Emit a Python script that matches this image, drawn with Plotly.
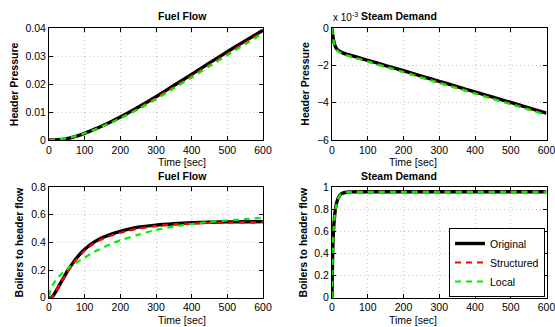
import plotly.graph_objects as go

# ---------------- data ----------------
# Top-left: Fuel Flow -> Header Pressure
t_a = [0, 25, 50, 75, 100, 125, 150, 175, 200, 225, 250, 300, 350, 400, 450, 500, 550, 600]
hp_ff_orig = [0, 0.0001, 0.0005, 0.0013, 0.0024, 0.0037, 0.0051, 0.0066, 0.0082, 0.0099, 0.0117, 0.0155, 0.0195, 0.0235, 0.0276, 0.0316, 0.0355, 0.0393]
hp_ff_struct = [0, 0.0001, 0.0005, 0.0012, 0.0023, 0.0035, 0.0049, 0.0063, 0.0079, 0.0095, 0.0113, 0.0150, 0.0189, 0.0229, 0.0269, 0.0309, 0.0348, 0.0387]
hp_ff_local = [0, 0.0002, 0.0007, 0.0014, 0.0024, 0.0036, 0.0049, 0.0062, 0.0077, 0.0093, 0.0110, 0.0146, 0.0185, 0.0224, 0.0264, 0.0304, 0.0343, 0.0382]

# Top-right: Steam Demand -> Header Pressure (x 10^-3)
t_b = [0, 2, 5, 10, 15, 20, 30, 40, 50, 75, 100, 150, 200, 250, 300, 350, 400, 450, 500, 550, 600]
hp_sd_orig = [0, -0.35, -0.7, -1.0, -1.15, -1.22, -1.32, -1.39, -1.44, -1.58, -1.72, -2.0, -2.28, -2.57, -2.85, -3.13, -3.42, -3.70, -3.98, -4.27, -4.56]
hp_sd_struct = [0, -0.36, -0.72, -1.03, -1.18, -1.26, -1.36, -1.43, -1.49, -1.63, -1.77, -2.06, -2.34, -2.63, -2.92, -3.20, -3.49, -3.77, -4.06, -4.34, -4.63]
hp_sd_local = [0, -0.37, -0.74, -1.05, -1.20, -1.28, -1.38, -1.45, -1.51, -1.65, -1.79, -2.08, -2.36, -2.65, -2.94, -3.22, -3.51, -3.80, -4.08, -4.37, -4.66]

# Bottom-left: Fuel Flow -> Boilers to header flow
t_c = [0, 5, 10, 20, 30, 40, 50, 60, 75, 100, 125, 150, 175, 200, 250, 300, 350, 400, 450, 500, 550, 600]
bf_ff_orig = [0, 0, 0.01, 0.05, 0.095, 0.14, 0.185, 0.225, 0.28, 0.35, 0.40, 0.435, 0.46, 0.48, 0.51, 0.525, 0.535, 0.542, 0.546, 0.548, 0.549, 0.55]
bf_ff_struct = [0, 0, 0.01, 0.05, 0.095, 0.14, 0.18, 0.22, 0.27, 0.34, 0.39, 0.425, 0.45, 0.47, 0.50, 0.518, 0.53, 0.537, 0.541, 0.543, 0.545, 0.546]
bf_ff_local = [0.01, 0.06, 0.09, 0.13, 0.16, 0.185, 0.205, 0.225, 0.25, 0.29, 0.33, 0.36, 0.39, 0.415, 0.455, 0.49, 0.515, 0.533, 0.548, 0.558, 0.568, 0.577]

# Bottom-right: Steam Demand -> Boilers to header flow
t_d = [0, 1, 2, 3, 5, 8, 10, 15, 20, 25, 30, 40, 50, 75, 100, 200, 300, 400, 500, 600]
bf_sd_orig = [0, 0.25, 0.42, 0.53, 0.65, 0.76, 0.81, 0.88, 0.915, 0.935, 0.945, 0.953, 0.956, 0.957, 0.957, 0.957, 0.957, 0.957, 0.957, 0.957]
bf_sd_struct = [0, 0.25, 0.42, 0.53, 0.65, 0.76, 0.81, 0.88, 0.915, 0.935, 0.945, 0.953, 0.956, 0.957, 0.957, 0.957, 0.957, 0.957, 0.957, 0.957]
bf_sd_local = [0, 0.24, 0.41, 0.52, 0.64, 0.75, 0.80, 0.875, 0.91, 0.932, 0.943, 0.952, 0.955, 0.956, 0.956, 0.956, 0.956, 0.956, 0.956, 0.956]

series_names = ["Original", "Structured", "Local"]
panel_titles = ["Fuel Flow", "Steam Demand", "Fuel Flow", "Steam Demand"]
ylabels = ["Header Pressure", "Header Pressure", "Boilers to header flow", "Boilers to header flow"]
xlabel = "Time [sec]"

# ---------------- figure ----------------
W, H = 555, 327
fig = go.Figure()

colors = ["#000000", "#ff0000", "#00ee00"]
widths = [3.4, 2.2, 2.2]
dashes = ["solid", "6px,5px", "6px,5px"]

panels = [
    (t_a, [hp_ff_orig, hp_ff_struct, hp_ff_local]),
    (t_b, [hp_sd_orig, hp_sd_struct, hp_sd_local]),
    (t_c, [bf_ff_orig, bf_ff_struct, bf_ff_local]),
    (t_d, [bf_sd_orig, bf_sd_struct, bf_sd_local]),
]

# pixel boxes (left, top, right, bottom)
boxes = [
    (49, 28.3, 263, 140),
    (332, 28.3, 546.5, 140),
    (49, 187, 263, 297.8),
    (332, 187, 546.5, 297.8),
]
# x-center of y-axis titles (px)
ytitle_x = [14, 305.5, 19, 303]
# y-center of panel titles (px)
title_y = [16, 16, 175.5, 175.5]

yranges = [[0, 0.04], [-6, 0], [0, 0.8], [0, 1]]
ydticks = [0.01, 2, 0.2, 0.2]

font_family = "Liberation Sans, Arial, sans-serif"

for i, (t, ys) in enumerate(panels):
    n = i + 1
    xa = "x" if n == 1 else f"x{n}"
    ya = "y" if n == 1 else f"y{n}"
    for k in range(3):
        fig.add_trace(go.Scatter(
            x=t, y=ys[k], mode="lines", name=series_names[k],
            line=dict(color=colors[k], width=widths[k], dash=dashes[k], shape="spline", smoothing=0.6),
            xaxis=xa, yaxis=ya, showlegend=(n == 4),
        ))
    l, tp, r, b = boxes[i]
    axkey_x = "xaxis" if n == 1 else f"xaxis{n}"
    axkey_y = "yaxis" if n == 1 else f"yaxis{n}"
    common = dict(
        showline=True, linecolor="black", linewidth=1, mirror="ticks",
        ticks="inside", ticklen=4, tickcolor="black",
        showgrid=True, gridcolor="#c8c8c8", griddash="1px,3px", gridwidth=1,
        zeroline=False, automargin=False, ticklabeloverflow="allow",
        tickfont=dict(family=font_family, size=10.5, color="black"),
    )
    fig.update_layout({
        axkey_x: dict(common, domain=[l / W, r / W], range=[0, 600], dtick=100, anchor=ya),
        axkey_y: dict(common, domain=[1 - b / H, 1 - tp / H], range=yranges[i], dtick=ydticks[i], anchor=xa),
    })
    # panel title
    fig.add_annotation(text=f"<b>{panel_titles[i]}</b>", x=(l + r) / 2 / W, y=1 - title_y[i] / H,
                       xref="paper", yref="paper", showarrow=False, yanchor="middle",
                       font=dict(family=font_family, size=10.5, color="black"))
    # x-axis title
    fig.add_annotation(text=xlabel, x=(l + r) / 2 / W, y=1 - (b + 21.8) / H,
                       xref="paper", yref="paper", showarrow=False, yanchor="middle",
                       font=dict(family=font_family, size=10.5, color="black"))
    # y-axis title
    fig.add_annotation(text=f"<b>{ylabels[i]}</b>", x=ytitle_x[i] / W, y=1 - (tp + b) / 2 / H,
                       xref="paper", yref="paper", showarrow=False, textangle=-90,
                       xanchor="center", yanchor="middle",
                       font=dict(family=font_family, size=10.5, color="black"))

# x 10^-3 multiplier
fig.add_annotation(text="x 10<sup>-3</sup>", x=331 / W, y=1 - 25 / H, xref="paper", yref="paper",
                   showarrow=False, xanchor="left", yanchor="bottom",
                   font=dict(family=font_family, size=10, color="black"))

fig.update_layout(
    width=W, height=H,
    margin=dict(l=0, r=0, t=0, b=0),
    paper_bgcolor="white", plot_bgcolor="white",
    font=dict(family=font_family, color="black"),
    showlegend=True,
    legend=dict(
        x=545 / W, y=1 - 297 / H, xanchor="right", yanchor="bottom",
        bgcolor="white", bordercolor="black", borderwidth=1,
        font=dict(family=font_family, size=10.5, color="black"),
        tracegroupgap=0, itemwidth=30,
    ),
)

fig.write_html("out.html",
               config={"displayModeBar": False},
               post_script="document.body.style.margin='0';document.body.style.overflow='hidden';")
